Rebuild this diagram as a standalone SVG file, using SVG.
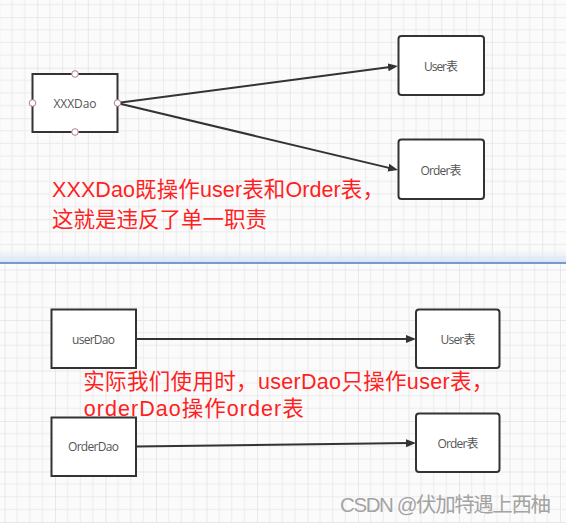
<svg xmlns="http://www.w3.org/2000/svg" width="566" height="523" viewBox="0 0 566 523">
<style>
.box{fill:#fff;stroke:#333;stroke-width:2}
.lbl{font-family:"Open Sans","Noto Sans CJK SC",sans-serif;font-size:12px;fill:#555;text-anchor:middle}
.red{font-family:"Liberation Sans","Noto Sans CJK SC",sans-serif;font-size:21.5px;fill:#ff1f1f}
.edge{fill:none;stroke:#333;stroke-width:2}
.hdl{fill:#fff;stroke:#b07f88;stroke-width:1}
</style>
<defs>
<marker id="arr" markerUnits="userSpaceOnUse" markerWidth="11" markerHeight="9" refX="4" refY="4.5" orient="auto">
<path d="M0,0.5 L10,4.5 L0,8.5 Z" fill="#333"/>
</marker>
<pattern id="gridTop" patternUnits="userSpaceOnUse" x="37.3" y="17.2" width="50.5" height="50.5">
<rect width="50.5" height="50.5" fill="#fbfbfb"/>
<g fill="#ececec">
<rect x="12.125" y="0" width="1" height="50.5"/>
<rect x="24.75" y="0" width="1" height="50.5"/>
<rect x="37.375" y="0" width="1" height="50.5"/>
<rect x="0" y="12.125" width="50.5" height="1"/>
<rect x="0" y="24.75" width="50.5" height="1"/>
<rect x="0" y="37.375" width="50.5" height="1"/>
</g>
<g fill="#e1e1e1">
<rect x="-0.5" y="0" width="1.2" height="50.5"/>
<rect x="0" y="-0.5" width="50.5" height="1.2"/>
</g>
</pattern>
<pattern id="gridBot" patternUnits="userSpaceOnUse" x="4.5" y="17" width="50.5" height="50.5">
<rect width="50.5" height="50.5" fill="#fbfbfb"/>
<g fill="#ececec">
<rect x="12.125" y="0" width="1" height="50.5"/>
<rect x="24.75" y="0" width="1" height="50.5"/>
<rect x="37.375" y="0" width="1" height="50.5"/>
<rect x="0" y="12.125" width="50.5" height="1"/>
<rect x="0" y="24.75" width="50.5" height="1"/>
<rect x="0" y="37.375" width="50.5" height="1"/>
</g>
<g fill="#e1e1e1">
<rect x="-0.5" y="0" width="1.2" height="50.5"/>
<rect x="0" y="-0.5" width="50.5" height="1.2"/>
</g>
</pattern>
<linearGradient id="sep" x1="0" y1="0" x2="0" y2="1">
<stop offset="0" stop-color="#e4edf9" stop-opacity="0"/>
<stop offset="1" stop-color="#d6e4f6" stop-opacity="1"/>
</linearGradient>
</defs>

<rect x="0" y="0" width="566" height="263" fill="url(#gridTop)"/>
<rect x="0" y="263" width="566" height="260" fill="url(#gridBot)"/>
<rect x="0" y="248" width="566" height="14.5" fill="url(#sep)"/>
<line x1="0" y1="263" x2="566" y2="263" stroke="#4f7bbf" stroke-width="1.6"/>

<g id="connectors">
<line class="edge" x1="117" y1="103" x2="392.05" y2="66.78" marker-end="url(#arr)"/>
<line class="edge" x1="117" y1="103" x2="392.16" y2="168.61" marker-end="url(#arr)"/>
<line class="edge" x1="136" y1="339" x2="410" y2="339" marker-end="url(#arr)"/>
<line class="edge" x1="136" y1="446.5" x2="410" y2="443.08" marker-end="url(#arr)"/>
</g>

<g id="xxxdao">
<rect class="box" x="32.5" y="74" width="85" height="58"/>
<text class="lbl" x="75" y="107.5" textLength="43">XXXDao</text>
<circle class="hdl" cx="75" cy="74" r="3.3"/>
<circle class="hdl" cx="75" cy="132" r="3.3"/>
<circle class="hdl" cx="32.5" cy="103" r="3.3"/>
<circle class="hdl" cx="117.5" cy="103" r="3.3"/>
</g>

<g id="user-top">
<rect class="box" x="398.5" y="36" width="85.5" height="59" rx="3"/>
<text class="lbl" x="441" y="71" textLength="34">User表</text>
</g>

<g id="order-top">
<rect class="box" x="398.5" y="139.5" width="85.5" height="59.5" rx="3"/>
<text class="lbl" x="441" y="174.5" textLength="41">Order表</text>
</g>

<g id="note-top">
<text class="red" x="52" y="196.7" textLength="332">XXXDao既操作user表和Order表，</text>
<text class="red" x="52" y="226.6">这就是违反了单一职责</text>
</g>

<g id="userdao">
<rect class="box" x="51.5" y="309.5" width="84.5" height="58.5"/>
<text class="lbl" x="93.5" y="343.5" textLength="43">userDao</text>
</g>

<g id="user-bot">
<rect class="box" x="416" y="309.5" width="83.5" height="58.5" rx="3"/>
<text class="lbl" x="458" y="343.5" textLength="35">User表</text>
</g>

<g id="orderdao">
<rect class="box" x="51.5" y="417.5" width="84.5" height="58.5"/>
<text class="lbl" x="93.5" y="451" textLength="51">OrderDao</text>
</g>

<g id="order-bot">
<rect class="box" x="416" y="413.5" width="83.5" height="58.5" rx="3"/>
<text class="lbl" x="458" y="447.5" textLength="41">Order表</text>
</g>

<g id="note-bot">
<text class="red" x="83.3" y="389" textLength="410">实际我们使用时，userDao只操作user表，</text>
<text class="red" x="83.8" y="415.5" textLength="220">orderDao操作order表</text>
</g>

<text x="340" y="512" font-family="Liberation Sans, Noto Sans CJK SC, sans-serif" font-size="20.5" fill="#a3a3a3" textLength="211">CSDN @伏加特遇上西柚</text>
</svg>
